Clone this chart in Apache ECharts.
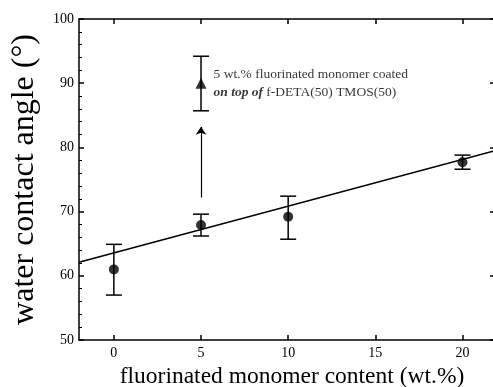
<!DOCTYPE html>
<html><head><meta charset="utf-8">
<script src="https://cdn.jsdelivr.net/npm/echarts@6/dist/echarts.min.js"></script>
<style>html,body{margin:0;padding:0;background:#fff}#c{width:493px;height:387px}</style>
</head><body><div id="c"></div>
<script>
// Data
const xValues = [0, 5, 10, 20];
const yValues = [61.0, 67.9, 69.2, 77.7];
const errLow = [57.0, 66.2, 65.7, 76.6];
const errHigh = [64.9, 69.6, 72.4, 78.8];
const coatedX = [5];
const coatedY = [90.0];
const coatedLow = [85.7];
const coatedHigh = [94.2];
const fitLine = [[-2, 62.1], [21.75, 79.4]];
const arrowFrom = [5, 72.2];
const arrowTo = [5, 83.2];
const xTicks = [0, 5, 10, 15, 20];
const yTicks = [50, 60, 70, 80, 90, 100];

const FONT = '"Liberation Serif", "DejaVu Serif", serif';
const chart = echarts.init(document.getElementById('c'), null, {renderer: 'canvas'});

const errData = xValues.map((x, i) => [x, errLow[i], errHigh[i]])
  .concat(coatedX.map((x, i) => [x, coatedLow[i], coatedHigh[i]]));

function renderErr(params, api) {
  const x = api.value(0);
  const lo = api.coord([x, api.value(1)]);
  const hi = api.coord([x, api.value(2)]);
  const hw = 8;
  const style = {stroke: '#000', lineWidth: 1.5};
  return {type: 'group', children: [
    {type: 'line', shape: {x1: lo[0], y1: lo[1], x2: hi[0], y2: hi[1]}, style},
    {type: 'line', shape: {x1: lo[0]-hw, y1: lo[1], x2: lo[0]+hw, y2: lo[1]}, style},
    {type: 'line', shape: {x1: hi[0]-hw, y1: hi[1], x2: hi[0]+hw, y2: hi[1]}, style}
  ]};
}

chart.setOption({
  backgroundColor: '#fff',
  animation: false,
  grid: {left: 79, right: 0, top: 19, bottom: 47, containLabel: false, outerBoundsMode: 'none'},
  xAxis: [{
    type: 'value', min: -2, max: 21.75, position: 'bottom',
    name: 'fluorinated monomer content (wt.%)', nameLocation: 'middle', nameGap: 17,
    nameTextStyle: {fontFamily: FONT, fontSize: 23.5, color: '#000', padding: [0, 0, 0, 12]},
    axisLine: {show: true, onZero: false, lineStyle: {color: '#000', width: 1.5}},
    axisTick: {show: true, inside: true, length: 5, customValues: xTicks, lineStyle: {color: '#000', width: 1.5}},
    axisLabel: {customValues: xTicks, fontFamily: FONT, fontSize: 14, color: '#000', margin: 6},
    splitLine: {show: false}
  }, {
    type: 'value', min: -2, max: 21.75, position: 'top',
    axisLine: {show: true, onZero: false, lineStyle: {color: '#000', width: 1.5}},
    axisTick: {show: true, inside: true, length: 5, customValues: xTicks, lineStyle: {color: '#000', width: 1.5}},
    axisLabel: {show: false},
    splitLine: {show: false}
  }],
  yAxis: [{
    type: 'value', min: 50, max: 100, interval: 10, position: 'left',
    name: 'water contact angle (°)', nameLocation: 'middle', nameGap: 38,
    nameTextStyle: {fontFamily: FONT, fontSize: 32, color: '#000'},
    axisLine: {show: true, onZero: false, lineStyle: {color: '#000', width: 1.5}},
    axisTick: {show: true, inside: true, length: 5, lineStyle: {color: '#000', width: 1.5}},
    minorTick: {show: true, splitNumber: 5, length: 3, lineStyle: {color: '#000', width: 1}},
    axisLabel: {fontFamily: FONT, fontSize: 14, color: '#000', margin: 5},
    splitLine: {show: false}
  }, {
    type: 'value', min: 50, max: 100, interval: 10, position: 'right',
    axisLine: {show: false, onZero: false},
    axisTick: {show: true, inside: true, length: 3, lineStyle: {color: '#000', width: 1.5}},
    axisLabel: {show: false},
    splitLine: {show: false}
  }],
  series: [
    {
      type: 'line', data: fitLine, symbol: 'none', silent: true,
      lineStyle: {color: '#000', width: 1.5}, z: 2,
      markLine: {
        silent: true, symbol: ['none', 'arrow'], symbolSize: 8,
        lineStyle: {color: '#000', width: 1.2, type: 'solid'},
        label: {show: false},
        data: [[{coord: arrowFrom}, {coord: arrowTo}]]
      }
    },
    {type: 'custom', data: errData, renderItem: renderErr, z: 3, silent: true},
    {
      type: 'scatter', data: xValues.map((x, i) => [x, yValues[i]]),
      symbol: 'circle', symbolSize: 10, itemStyle: {color: '#000'}, z: 4
    },
    {
      type: 'scatter', data: coatedX.map((x, i) => [x, coatedY[i]]),
      symbol: 'triangle', symbolSize: 11, itemStyle: {color: '#000'}, z: 4,
      label: {
        show: true, position: 'right', distance: 7,
        formatter: '{n|5 wt.% fluorinated monomer coated}\n{b|on top of} {n|f-DETA(50) TMOS(50)}',
        rich: {
          n: {fontFamily: FONT, fontSize: 13.5, color: '#000', lineHeight: 18},
          b: {fontFamily: FONT, fontSize: 13.5, color: '#000', fontWeight: 'bold', fontStyle: 'italic', lineHeight: 18}
        }
      }
    }
  ]
});
</script></body></html>
